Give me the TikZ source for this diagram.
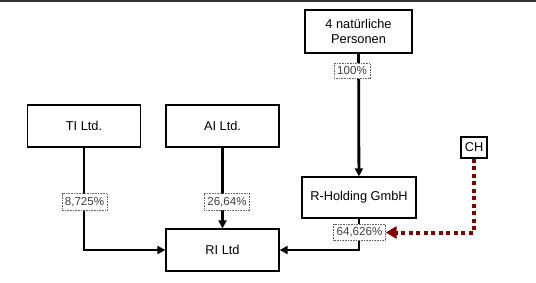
\documentclass[tikz,border=0pt]{standalone}
\usepackage{fontspec}
\setmainfont{Liberation Sans}
\usetikzlibrary{arrows.meta}
\definecolor{darkred}{RGB}{128,0,0}

\begin{document}
\begin{tikzpicture}[
  x=1pt, y=-1pt,
  font=\fontsize{12.8}{15}\selectfont,
  box/.style={rectangle, draw=black, line width=1.3pt, fill=white,
              minimum width=113pt, minimum height=42pt, inner sep=2pt, align=center},
  share/.style={rectangle, draw=black!60, densely dotted, line width=0.6pt, fill=white,
                text=black!75, font=\fontsize{11.6}{13}\selectfont,
                inner xsep=3pt, inner ysep=3.5pt},
  link/.style={draw=black, line width=2.8pt, -{Triangle[length=8pt,width=8pt]}},
  ctrl/.style={draw=darkred, line width=4pt, dash pattern=on 4pt off 3.5pt,
               -{Triangle[length=11pt,width=12pt]}}
]
\useasboundingbox (0,0) rectangle (536,282);
\draw[black!80, line width=2pt] (0,1) -- (536,1);

\node[box, minimum width=107pt, minimum height=43pt] (pers) at (358.5,31.5) {4 natürliche\\Personen};
\node[box] (ti) at (84,126)    {TI Ltd.};
\node[box] (ai) at (222.5,126) {AI Ltd.};
\node[box] (ri) at (222.5,250) {RI Ltd};
\node[box, minimum width=114pt, minimum height=41pt] (rh) at (359,197.5) {R-Holding GmbH};
\node[box, minimum width=26pt, minimum height=21pt, inner sep=1pt] (ch) at (474,147.5) {CH};

\draw[link] (pers) -- (rh);
\draw[link] (ti) |- (ri);
\draw[link] (ai) -- (ri);
\draw[link] (rh) |- (ri);

\node[share] (p100) at (352,71)      {100\%};
\node[share] (p8)   at (84.5,202)    {8,725\%};
\node[share] (p26)  at (227,202)     {26,64\%};
\node[share] (p64)  at (359.5,232.5) {64,626\%};

\draw[ctrl] (ch) |- (p64);
\end{tikzpicture}
\end{document}
